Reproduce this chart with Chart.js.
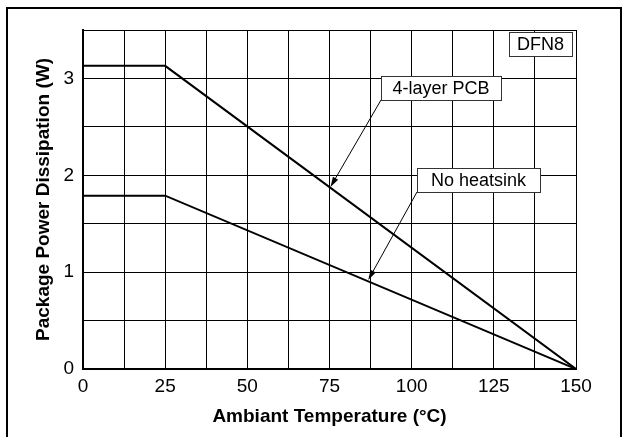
<!DOCTYPE html>
<html>
<head>
<meta charset="utf-8">
<script src="https://cdn.jsdelivr.net/npm/chart.js@4.4.1/dist/chart.umd.min.js"></script>
<style>
  html, body { margin: 0; padding: 0; background: #fff; }
  #wrap { width: 622px; height: 437px; position: relative; }
</style>
</head>
<body>
<div id="wrap"><canvas id="derating" width="622" height="437"></canvas></div>
<script>
// Temperature breakpoints (°C) and dissipation values (W)
const temps = [0, 25, 150];
const pcb4Layer = [3.13, 3.13, 0];
const noHeatsink = [1.79, 1.79, 0];
const xTickLabels = [0, 25, 50, 75, 100, 125, 150];
const yTickLabels = [0, 1, 2, 3];

const toPoints = (xs, ys) => xs.map((x, i) => ({ x: x, y: ys[i] }));

const FONT = '"Liberation Sans", Arial, sans-serif';

// Outer frame + text boxes with arrows
const decorations = {
  id: 'decorations',
  beforeDraw(chart) {
    const c = chart.ctx;
    c.save();
    c.fillStyle = '#fff';
    c.fillRect(0, 0, chart.width, chart.height);
    c.strokeStyle = '#000';
    c.lineWidth = 2;
    c.beginPath();
    c.moveTo(7, 437);
    c.lineTo(7, 8);
    c.lineTo(621, 8);
    c.lineTo(621, 437);
    c.stroke();
    c.restore();
  },
  afterDatasetsDraw(chart) {
    const c = chart.ctx;
    const xs = chart.scales.x, ys = chart.scales.y;
    const boxes = [
      { text: 'DFN8', x: 509, y: 32, w: 63, h: 24 },
      { text: '4-layer PCB', x: 381, y: 76, w: 120, h: 24, from: [381, 100], to: [75.3, 1.88] },
      { text: 'No heatsink', x: 417, y: 168, w: 123, h: 24, from: [417, 192], to: [86.8, 0.92] }
    ];
    c.save();
    boxes.forEach(b => {
      if (b.from) {
        const tx = xs.getPixelForValue(b.to[0]);
        const ty = ys.getPixelForValue(b.to[1]);
        const ang = Math.atan2(ty - b.from[1], tx - b.from[0]);
        c.strokeStyle = '#000';
        c.lineWidth = 1;
        c.beginPath();
        c.moveTo(b.from[0], b.from[1]);
        c.lineTo(tx - 6 * Math.cos(ang), ty - 6 * Math.sin(ang));
        c.stroke();
        c.fillStyle = '#000';
        c.beginPath();
        c.moveTo(tx, ty);
        c.lineTo(tx - 10 * Math.cos(ang) + 3 * Math.sin(ang), ty - 10 * Math.sin(ang) - 3 * Math.cos(ang));
        c.lineTo(tx - 10 * Math.cos(ang) - 3 * Math.sin(ang), ty - 10 * Math.sin(ang) + 3 * Math.cos(ang));
        c.closePath();
        c.fill();
      }
      c.fillStyle = '#fff';
      c.fillRect(b.x, b.y, b.w, b.h);
      c.strokeStyle = '#333';
      c.lineWidth = 1;
      c.strokeRect(b.x + 0.5, b.y + 0.5, b.w, b.h);
      c.fillStyle = '#000';
      c.font = '18px ' + FONT;
      c.textAlign = 'center';
      c.textBaseline = 'middle';
      c.fillText(b.text, b.x + b.w / 2, b.y + b.h / 2 + 1);
    });
    c.restore();
  }
};

new Chart(document.getElementById('derating'), {
  type: 'scatter',
  data: {
    datasets: [
      {
        label: '4-layer PCB',
        data: toPoints(temps, pcb4Layer),
        showLine: true,
        borderColor: '#000',
        borderWidth: 2,
        pointRadius: 0,
        tension: 0
      },
      {
        label: 'No heatsink',
        data: toPoints(temps, noHeatsink),
        showLine: true,
        borderColor: '#000',
        borderWidth: 2,
        pointRadius: 0,
        tension: 0
      }
    ]
  },
  options: {
    responsive: false,
    animation: false,
    layout: { padding: { left: 0, right: 46, top: 30, bottom: 0 } },
    plugins: { legend: { display: false }, tooltip: { enabled: false } },
    scales: {
      x: {
        type: 'linear',
        min: 0,
        max: 150,
        afterFit: s => { s.height = 68; },
        afterBuildTicks: s => { s.ticks = []; for (let v = 0; v <= 150; v += 12.5) s.ticks.push({ value: v }); },
        ticks: {
          color: '#000',
          font: { family: FONT, size: 19 },
          padding: 6,
          maxRotation: 0,
          autoSkip: false,
          callback: v => xTickLabels.includes(v) ? String(v) : ''
        },
        grid: { color: '#000', lineWidth: 1, drawTicks: false },
        border: { color: '#000', width: 2 },
        title: {
          display: true,
          text: 'Ambiant Temperature (°C)',
          color: '#000',
          font: { family: FONT, size: 19, weight: 'bold' },
          padding: { top: 0, bottom: 9 }
        }
      },
      y: {
        type: 'linear',
        min: 0,
        max: 3.5,
        afterFit: s => { s.width = 83; },
        afterBuildTicks: s => { s.ticks = []; for (let v = 0; v <= 3.5; v += 0.5) s.ticks.push({ value: v }); },
        ticks: {
          color: '#000',
          font: { family: FONT, size: 19 },
          padding: 9,
          autoSkip: false,
          callback: v => yTickLabels.includes(v) ? String(v) : ''
        },
        grid: { color: '#000', lineWidth: 1, drawTicks: false },
        border: { color: '#000', width: 2 },
        title: {
          display: true,
          text: 'Package Power Dissipation (W)',
          color: '#000',
          font: { family: FONT, size: 19, weight: 'bold' },
          padding: { top: 32, bottom: 0 }
        }
      }
    }
  },
  plugins: [decorations]
});
</script>
</body>
</html>
